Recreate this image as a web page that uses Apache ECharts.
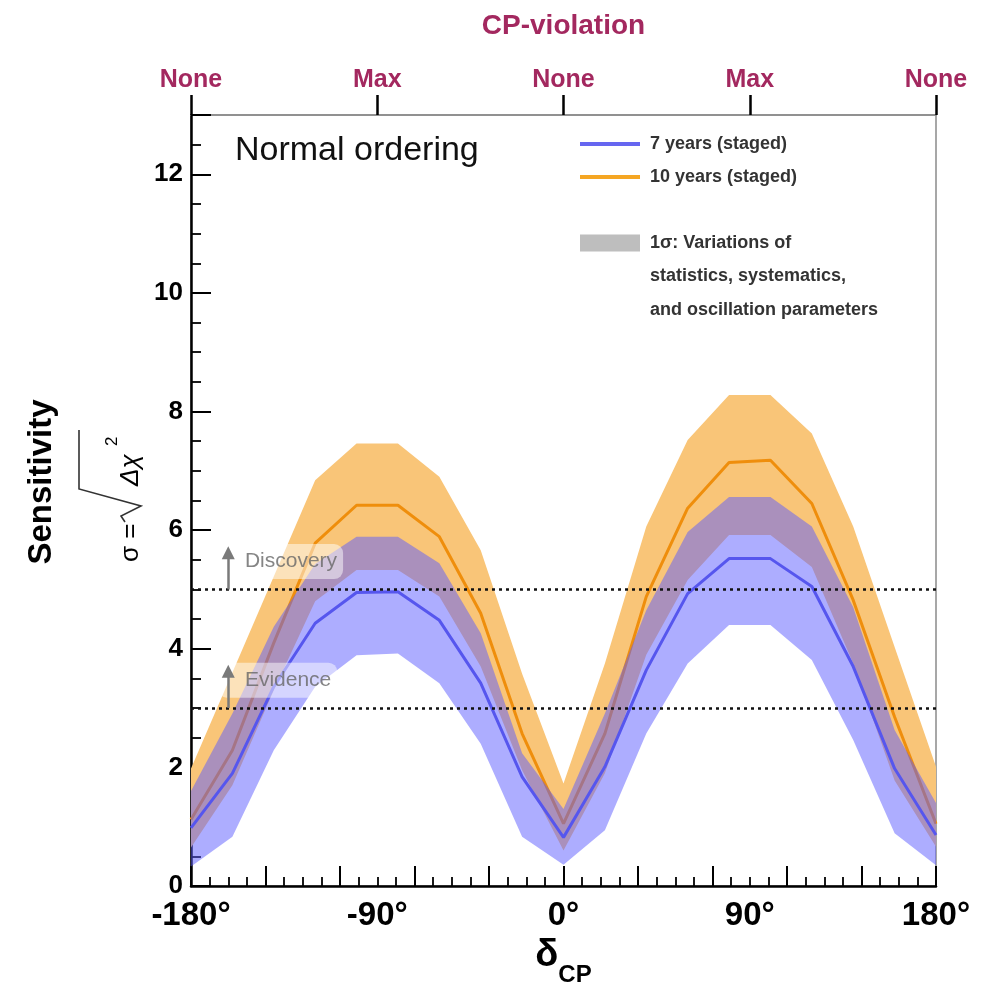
<!DOCTYPE html>
<html>
<head>
<meta charset="utf-8">
<script src="https://cdn.jsdelivr.net/npm/echarts@6/dist/echarts.min.js"></script>
<style>html,body{margin:0;padding:0;background:#fff;}#c{width:996px;height:996px;}</style>
</head>
<body>
<div id="c"></div>
<script>
// ---- data ----
const deltaCP = [-180,-160,-140,-120,-100,-80,-60,-40,-20,0,20,40,60,80,100,120,140,160,180];
const blueCenter = [0.98,1.90,3.36,4.43,4.95,4.96,4.48,3.42,1.84,0.82,2.01,3.64,4.93,5.52,5.52,5.05,3.70,1.98,0.86];
const blueLow    = [0.33,0.83,2.29,3.36,3.89,3.92,3.42,2.40,0.83,0.36,0.94,2.57,3.75,4.40,4.40,3.81,2.46,0.89,0.35];
const blueHigh   = [1.60,2.91,4.37,5.43,5.89,5.89,5.44,4.26,2.24,1.30,2.91,4.65,5.97,6.56,6.56,6.06,4.70,2.63,1.40];
const orangeCenter = [1.12,2.29,4.10,5.78,6.42,6.42,5.89,4.60,2.57,1.05,2.57,4.88,6.37,7.14,7.18,6.45,4.82,2.85,1.05];
const orangeLow    = [0.65,1.70,3.30,4.80,5.33,5.33,4.88,3.70,1.95,0.60,1.90,3.90,5.16,5.92,5.92,5.38,3.75,1.78,0.66];
const orangeHigh   = [1.98,3.60,5.22,6.84,7.46,7.46,6.90,5.66,3.58,1.73,3.75,6.06,7.52,8.28,8.28,7.63,6.06,4.03,2.01];
const xTickLabels = ['-180°','-90°','0°','90°','180°'];
const cpLabels = ['None','Max','None','Max','None'];
const thresholdValues = [3, 5];
const thresholdNames = ['Evidence', 'Discovery'];
const seriesNames = ['7 years (staged)', '10 years (staged)', '1σ: Variations of'];
const legendExtra = ['statistics, systematics,', 'and oscillation parameters'];

// ---- build ----
const zip = (xs, ys) => xs.map((x, i) => [x, ys[i]]);
const bandData = (xs, lo, hi) => xs.map((x, i) => [x, lo[i], hi[i]]);
const FONT = 'Liberation Sans, Arial, Helvetica, sans-serif';
const CP_COLOR = '#A3285F';

function bandSeries(name, lo, hi, color, z) {
  const data = bandData(deltaCP, lo, hi);
  return {
    name: name, type: 'custom', z: z, silent: true,
    data: data,
    encode: {x: 0, y: [1, 2]},
    renderItem: function (params, api) {
      if (params.dataIndex !== 0) return null;
      const upper = data.map(d => api.coord([d[0], d[2]]));
      const lower = data.map(d => api.coord([d[0], d[1]])).reverse();
      return {
        type: 'polygon',
        shape: {points: upper.concat(lower)},
        style: {fill: color, stroke: null}
      };
    }
  };
}

const chart = echarts.init(document.getElementById('c'), null, {renderer: 'canvas'});
const hidden = {show: false};
const legendText = {fontFamily: FONT, fontSize: 18, fontWeight: 'bold', color: '#333', lineHeight: 20, padding: [0, 0, 0, 5]};

const option = {
  backgroundColor: '#ffffff',
  animation: false,
  title: {
    text: 'Normal ordering', left: 230, top: 129,
    textStyle: {fontFamily: FONT, fontSize: 34, fontWeight: 'normal', color: '#111'}
  },
  grid: {left: 191, right: 60, top: 115, bottom: 110, show: true, borderColor: '#8a8a8a', borderWidth: 1.5, backgroundColor: 'transparent'},
  legend: [
    {
      data: [seriesNames[0], seriesNames[1]], orient: 'vertical', left: 575, top: 129,
      icon: 'rect', itemWidth: 60, itemHeight: 4, itemGap: 13, selectedMode: false,
      textStyle: legendText
    },
    {
      data: [seriesNames[2]], orient: 'vertical', left: 575, top: 228,
      icon: 'rect', itemWidth: 60, itemHeight: 17, selectedMode: false,
      textStyle: legendText
    }
  ],
  xAxis: [
    {
      type: 'value', min: -180, max: 180, interval: 36, position: 'bottom',
      axisLine: {show: true, onZero: false, lineStyle: {color: '#000', width: 2.5}},
      axisTick: {show: true, inside: true, length: 20, lineStyle: {color: '#000', width: 2}},
      minorTick: {show: true, splitNumber: 4, length: 9, lineStyle: {color: '#000', width: 1.8}},
      axisLabel: hidden, splitLine: hidden, minorSplitLine: hidden
    },
    {
      type: 'value', min: -180, max: 180, interval: 90, position: 'bottom',
      axisLine: {show: false, onZero: false}, axisTick: hidden, splitLine: hidden,
      axisLabel: {show: true, margin: 13, fontFamily: FONT, fontSize: 33, fontWeight: 'bold', color: '#000',
        formatter: (v) => xTickLabels[Math.round((v + 180) / 90)]},
      name: '{d|δ}{s|CP}', nameLocation: 'middle', nameGap: 50,
      nameTextStyle: {rich: {
        d: {fontFamily: FONT, fontSize: 38, fontWeight: 'bold', color: '#000', lineHeight: 50, verticalAlign: 'top'},
        s: {fontFamily: FONT, fontSize: 24, fontWeight: 'bold', color: '#000', lineHeight: 50, verticalAlign: 'bottom'}
      }}
    },
    {
      type: 'value', min: -180, max: 180, interval: 90, position: 'top',
      axisLine: {show: true, onZero: false, lineStyle: {color: '#8a8a8a', width: 1.5}},
      axisTick: {show: true, inside: false, length: 20, lineStyle: {color: '#000', width: 2.5}},
      splitLine: hidden,
      axisLabel: {show: true, margin: 22, fontFamily: FONT, fontSize: 25, fontWeight: 'bold', color: CP_COLOR,
        formatter: (v) => cpLabels[Math.round((v + 180) / 90)]},
      name: 'CP-violation', nameLocation: 'middle', nameGap: 75,
      nameTextStyle: {fontFamily: FONT, fontSize: 28, fontWeight: 'bold', color: CP_COLOR}
    }
  ],
  yAxis: [
    {
      type: 'value', min: 0, max: 13, interval: 2, position: 'left',
      axisLine: {show: true, onZero: false, lineStyle: {color: '#000', width: 2.5}},
      axisTick: {show: true, inside: true, length: 20, lineStyle: {color: '#000', width: 2}},
      splitLine: hidden,
      axisLabel: {show: true, margin: 8, fontFamily: FONT, fontSize: 26, fontWeight: 'bold', color: '#000',
        formatter: (v) => (v > 12 ? '' : String(v))}
    },
    {
      type: 'value', min: 0, max: 13, interval: 0.5, position: 'left',
      axisLine: {show: false, onZero: false},
      axisTick: {show: true, inside: true, length: 10, lineStyle: {color: '#000', width: 1.8}},
      axisLabel: hidden, splitLine: hidden
    }
  ],
  series: [
    bandSeries('o-band', orangeLow, orangeHigh, '#F9C578', 1),
    {
      name: seriesNames[1], type: 'line', data: zip(deltaCP, orangeCenter), symbol: 'none',
      color: '#F5A623', lineStyle: {color: '#EF8E0C', width: 3}, z: 2
    },
    bandSeries('b-band', blueLow, blueHigh, 'rgba(92,92,255,0.5)', 3),
    {
      name: seriesNames[0], type: 'line', data: zip(deltaCP, blueCenter), symbol: 'none',
      color: '#6666F0', lineStyle: {color: '#5656EE', width: 3}, z: 4,
      markLine: {
        silent: true, symbol: 'none', animation: false,
        label: {show: false},
        lineStyle: {color: '#111', type: [3, 4], width: 2.5},
        data: thresholdValues.map(v => ({yAxis: v}))
      }
    },
    {
      name: seriesNames[2], type: 'line', data: [], color: '#BEBEBE', z: 0
    },
    {
      name: 'labels', type: 'scatter', symbolSize: 0, z: 5, silent: true,
      data: thresholdValues.map((v, i) => ({value: [-167, v + 0.47], name: thresholdNames[i]})),
      label: {
        show: true, position: 'right', distance: 0, formatter: (p) => p.name,
        fontFamily: FONT, fontSize: 21, color: '#666',
        backgroundColor: 'rgba(255,255,255,0.62)', borderRadius: 9,
        padding: [7, 6, 7, 27]
      }
    },
    {
      name: 'arrows', type: 'lines', coordinateSystem: 'cartesian2d', z: 6, silent: true,
      symbol: ['none', 'triangle'], symbolSize: [11, 13],
      lineStyle: {color: '#7a7a7a', width: 2.5, opacity: 1},
      data: thresholdValues.map(v => ({coords: [[-162, v], [-162, v + 0.62]]}))
    }
  ],
  graphic: [
    {
      type: 'text', x: 42, y: 482, rotation: Math.PI / 2, z: 10,
      style: {text: 'Sensitivity', font: 'bold 33px ' + FONT, fill: '#000',
        textAlign: 'center', textVerticalAlign: 'middle', align: 'center', verticalAlign: 'middle'}
    },
    {
      type: 'group', x: 141, y: 562, rotation: Math.PI / 2, z: 10,
      children: [
        {type: 'text', x: 0, y: 3, style: {text: 'σ =', font: '26px ' + FONT, fill: '#000',
          textAlign: 'left', textVerticalAlign: 'bottom', align: 'left', verticalAlign: 'bottom'}},
        {type: 'polyline', shape: {points: [[40, -16], [46, -20], [56, 0], [73, -62], [132, -62]]},
          style: {stroke: '#333', lineWidth: 1.6, fill: null}},
        {type: 'text', x: 76, y: 3, style: {text: 'Δχ', font: 'italic 26px ' + FONT, fill: '#000',
          textAlign: 'left', textVerticalAlign: 'bottom', align: 'left', verticalAlign: 'bottom'}},
        {type: 'text', x: 116, y: -20, style: {text: '2', font: '17px ' + FONT, fill: '#000',
          textAlign: 'left', textVerticalAlign: 'bottom', align: 'left', verticalAlign: 'bottom'}}
      ]
    },
    {
      type: 'text', x: 650, y: 276, z: 10,
      style: {text: legendExtra[0], font: 'bold 18px ' + FONT, fill: '#333',
        textVerticalAlign: 'middle', verticalAlign: 'middle'}
    },
    {
      type: 'text', x: 650, y: 310, z: 10,
      style: {text: legendExtra[1], font: 'bold 18px ' + FONT, fill: '#333',
        textVerticalAlign: 'middle', verticalAlign: 'middle'}
    }
  ]
};
chart.setOption(option);
</script>
</body>
</html>
